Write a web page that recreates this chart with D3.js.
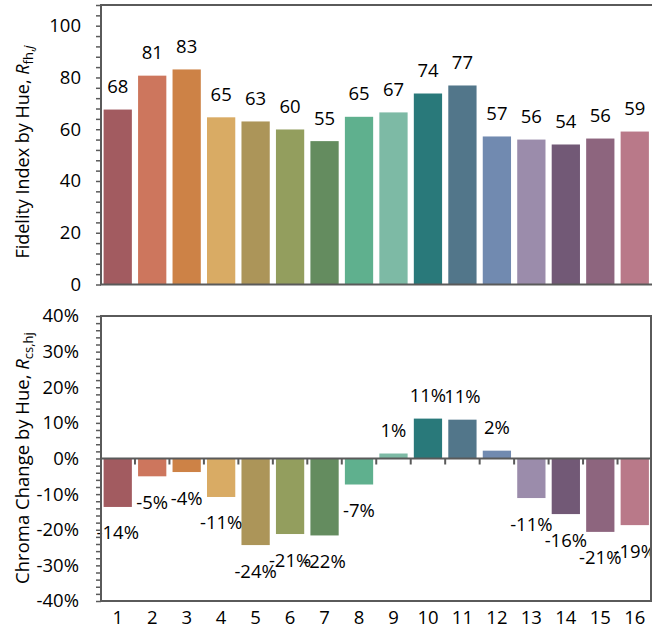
<!DOCTYPE html>
<html>
<head>
<meta charset="utf-8">
<script src="https://cdn.jsdelivr.net/npm/d3@7"></script>
<style>
  html, body { margin: 0; padding: 0; background: #fff; }
  svg text { font-family: "Open Sans", "Noto Sans", sans-serif; fill: #000; }
</style>
</head>
<body>
<svg id="chart" width="652" height="635"></svg>
<script>
// Hue bins 1–16
const hueBins = ["1","2","3","4","5","6","7","8","9","10","11","12","13","14","15","16"];
// Fidelity index by hue bin, Rf,hj
const fidelity = [67.6, 80.7, 83.1, 64.6, 63.0, 59.9, 55.4, 64.8, 66.5, 73.8, 76.9, 57.2, 56.0, 54.1, 56.4, 59.1];
// Chroma change by hue bin, Rcs,hj (percent)
const chroma = [-13.6, -5.0, -3.8, -10.8, -24.3, -21.2, -21.6, -7.3, 1.4, 11.2, 10.9, 2.2, -11.1, -15.6, -20.6, -18.7];
// Hue bin colours
const hueColors = ["#a25b60","#cd765d","#cd8246","#d9ab64","#ac9559","#939e5e","#648c5f","#5fb08e",
                   "#7dbaa5","#29797a","#52768a","#718ab0","#9b8cab","#725976","#8d657e","#b97989"];
// Axis tick values
const fidelityTicks = [0, 20, 40, 60, 80, 100];
const chromaTicks = [-40, -30, -20, -10, 0, 10, 20, 30, 40];

const svg = d3.select("#chart");
const axisColor = "#5a5a5a";
const fontSize = 18.5;

const x = d3.scaleBand().domain(hueBins).range([100.5, 652]).paddingInner(0.18).paddingOuter(0.09);
const left = 101, right = 651;

// ---------- Top panel: fidelity ----------
const yTop = d3.scaleLinear().domain([0, 108]).range([284.5, 5]);
const topG = svg.append("g");

topG.selectAll("rect.bar").data(fidelity).join("rect")
  .attr("class", "bar")
  .attr("x", (d, i) => x(hueBins[i]))
  .attr("width", x.bandwidth())
  .attr("y", d => yTop(d))
  .attr("height", d => yTop(0) - yTop(d))
  .attr("fill", (d, i) => hueColors[i]);

topG.selectAll("text.val").data(fidelity).join("text")
  .attr("class", "val")
  .attr("x", (d, i) => x(hueBins[i]) + x.bandwidth() / 2)
  .attr("y", d => yTop(d) - 23)
  .attr("dy", "0.35em")
  .attr("text-anchor", "middle")
  .attr("font-size", fontSize)
  .text(d => d3.format(".0f")(d));

// minor ticks every 4, major every 20
const topAxis = d3.axisLeft(yTop).tickValues(d3.range(0, 109, 4)).tickSize(5).tickFormat("");
topG.append("g").attr("transform", `translate(${left},0)`).call(topAxis)
  .call(g => g.selectAll("line").attr("stroke", axisColor).attr("stroke-width", 1.5))
  .call(g => g.select(".domain").remove());
topG.selectAll("text.ytick").data(fidelityTicks).join("text")
  .attr("class", "ytick")
  .attr("x", 81).attr("y", d => yTop(d)).attr("dy", "0.35em")
  .attr("text-anchor", "end").attr("font-size", fontSize)
  .text(d => d);

topG.append("path")
  .attr("d", `M${right + 2},${yTop(108)}H${left}V${yTop(0)}H${right + 2}`)
  .attr("fill", "none").attr("stroke", axisColor).attr("stroke-width", 2);

const t1 = topG.append("text")
  .attr("transform", "translate(29,152) rotate(-90)")
  .attr("text-anchor", "middle").attr("font-size", 18);
t1.append("tspan").text("Fidelity Index by Hue, ");
t1.append("tspan").attr("font-style", "italic").text("R");
t1.append("tspan").attr("font-size", 13).attr("dy", 4).text("fh,");
t1.append("tspan").attr("font-size", 13).attr("font-style", "italic").text("j");

// ---------- Bottom panel: chroma change ----------
const yBot = d3.scaleLinear().domain([-40, 40]).range([601, 316]);
const botG = svg.append("g");

botG.selectAll("rect.bar").data(chroma).join("rect")
  .attr("class", "bar")
  .attr("x", (d, i) => x(hueBins[i]))
  .attr("width", x.bandwidth())
  .attr("y", d => yBot(Math.max(0, d)))
  .attr("height", d => Math.abs(yBot(d) - yBot(0)))
  .attr("fill", (d, i) => hueColors[i]);

botG.selectAll("text.val").data(chroma).join("text")
  .attr("class", "val")
  .attr("x", (d, i) => x(hueBins[i]) + x.bandwidth() / 2)
  .attr("y", d => d >= 0 ? yBot(d) - 23 : yBot(d) + 26)
  .attr("dy", "0.35em")
  .attr("text-anchor", "middle")
  .attr("font-size", fontSize)
  .text(d => Math.round(d) + "%");

// frame
botG.append("rect")
  .attr("x", left).attr("y", yBot(40))
  .attr("width", right - left).attr("height", yBot(-40) - yBot(40))
  .attr("fill", "none").attr("stroke", axisColor).attr("stroke-width", 2);

// y ticks: minor every 2%, labels every 10%
const botAxis = d3.axisLeft(yBot).tickValues(d3.range(-40, 41, 2)).tickSize(5).tickFormat("");
botG.append("g").attr("transform", `translate(${left},0)`).call(botAxis)
  .call(g => g.selectAll("line").attr("stroke", axisColor).attr("stroke-width", 1.5))
  .call(g => g.select(".domain").remove());
botG.selectAll("text.ytick").data(chromaTicks).join("text")
  .attr("class", "ytick")
  .attr("x", 79).attr("y", d => yBot(d)).attr("dy", "0.35em")
  .attr("text-anchor", "end").attr("font-size", fontSize)
  .text(d => d + "%");

// zero line with category-boundary ticks
botG.append("line")
  .attr("x1", left).attr("x2", right).attr("y1", yBot(0)).attr("y2", yBot(0))
  .attr("stroke", axisColor).attr("stroke-width", 2);
const boundaries = hueBins.slice(1).map(h => x(h) - x.step() * x.paddingInner() / 2);
botG.selectAll("line.btick").data(boundaries).join("line")
  .attr("class", "btick")
  .attr("x1", d => d).attr("x2", d => d)
  .attr("y1", yBot(0)).attr("y2", yBot(0) + 6)
  .attr("stroke", axisColor).attr("stroke-width", 2);

// category labels below the panel
botG.selectAll("text.cat").data(hueBins).join("text")
  .attr("class", "cat")
  .attr("x", d => x(d) + x.bandwidth() / 2)
  .attr("y", 618).attr("dy", "0.35em")
  .attr("text-anchor", "middle").attr("font-size", fontSize)
  .text(d => d);

const t2 = botG.append("text")
  .attr("transform", "translate(29,458) rotate(-90)")
  .attr("text-anchor", "middle").attr("font-size", 18.5);
t2.append("tspan").text("Chroma Change by Hue, ");
t2.append("tspan").attr("font-style", "italic").text("R");
t2.append("tspan").attr("font-size", 13).attr("dy", 4).text("cs,hj");
</script>
</body>
</html>
